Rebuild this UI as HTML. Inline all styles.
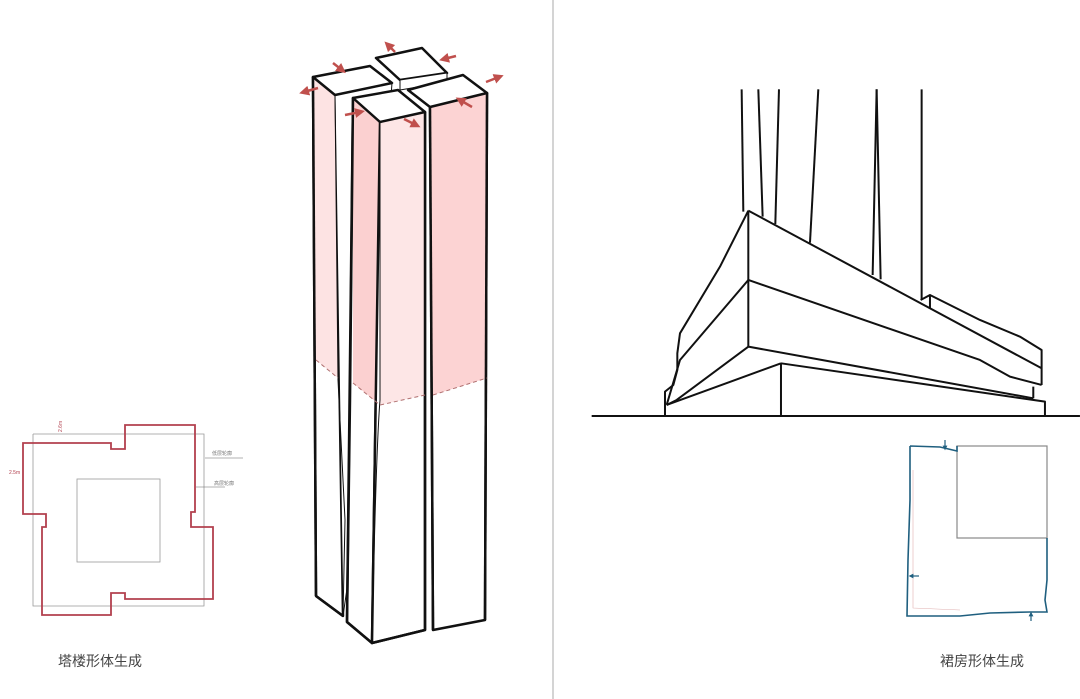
<!DOCTYPE html>
<html><head><meta charset="utf-8"><style>
html,body{margin:0;padding:0;background:#fff;}
body{width:1080px;height:699px;overflow:hidden;position:relative;}
.lbl{position:absolute;font-family:"Liberation Sans","Noto Sans CJK SC",sans-serif;font-size:14px;color:#444;}
</style></head><body>
<svg width="1080" height="699" style="position:absolute;left:0;top:0">
<defs>
<marker id="ar" markerWidth="4" markerHeight="4" refX="2" refY="2" orient="auto"><path d="M0,0 L4,2 L0,4 z" fill="#c0504d"/></marker>
<marker id="ab" markerWidth="4" markerHeight="4" refX="2" refY="2" orient="auto"><path d="M0,0 L4,2 L0,4 z" fill="#1f5f7f"/></marker>
</defs>
<line x1="553" y1="0" x2="553" y2="699" stroke="#aaa" stroke-width="1"/>

<!-- tower -->
<g stroke="#111" stroke-linejoin="round">
<!-- back-left block -->
<polygon points="313,77 335,95 343,616 316,596" fill="#fff" stroke-width="2.5"/>
<polygon points="313,77 335,95 338,378 316,360" fill="#fde3e3" stroke="none"/>
<polygon points="335,95 392,83 360,500 343,616" fill="#fff" stroke-width="1"/>
<polygon points="313,77 370,66 392,83 335,95" fill="#fff" stroke-width="2.5"/>
<!-- back block -->
<polygon points="376,58 422,48 447,73 400,80" fill="#fff" stroke-width="2.5"/>
<polygon points="400,80 447,73 447,82 400,90" fill="#fff" stroke-width="1"/>
<!-- right block -->
<polygon points="430,107 487,93 485,620 433,630" fill="#fff" stroke-width="2.5"/>
<polygon points="430,107 487,93 487,378 433,395" fill="#fcd3d3" stroke="none"/>
<polygon points="408,90 463,75 487,93 430,107" fill="#fff" stroke-width="2.5"/>
<line x1="430" y1="107" x2="433" y2="630" stroke-width="2.5"/>
<polyline points="487,93 485,620" fill="none" stroke-width="2.5"/>
<!-- front-left block -->
<polygon points="353,98 380,122 372,643 347,622" fill="#fff" stroke-width="2.5"/>
<polygon points="353,98 380,122 380,405 353,383" fill="#fbd0d0" stroke="none"/>
<polygon points="380,122 425,112 425,630 372,643" fill="#fff" stroke-width="2.5"/>
<polygon points="380,122 425,112 425,395 380,405" fill="#fde6e6" stroke="none"/>
<polygon points="353,98 398,90 425,112 380,122" fill="#fff" stroke-width="2.5"/>
<path d="M353,98 L350,400 L347,622 L372,643 L425,630 L425,112" fill="none" stroke-width="2.5"/>
<path d="M380,122 L380,400 Q376,450 372,643" fill="none" stroke-width="1"/>
<path d="M335,95 L338,380 L345,520 L343,616" fill="none" stroke-width="1"/>
<line x1="313" y1="77" x2="316" y2="596" stroke-width="2.5"/>
<line x1="316" y1="596" x2="343" y2="616" stroke-width="2.5"/>
</g>
<g stroke="#b07070" stroke-width="1" stroke-dasharray="4,3" fill="none">
<polyline points="316,360 338,378"/>
<polyline points="353,383 380,405 425,395"/>
<polyline points="433,395 487,378"/>
</g>
<g stroke="#c0504d" stroke-width="2.5" marker-end="url(#ar)">
<line x1="333" y1="63" x2="342" y2="70"/>
<line x1="318" y1="88" x2="304" y2="92"/>
<line x1="395" y1="52" x2="388" y2="45"/>
<line x1="456" y1="56" x2="444" y2="59"/>
<line x1="345" y1="115" x2="360" y2="112"/>
<line x1="404" y1="119" x2="416" y2="125"/>
<line x1="486" y1="82" x2="499" y2="77"/>
<line x1="472" y1="107" x2="460" y2="100"/>
</g>

<!-- left plan -->
<polyline points="33,434 204,434 204,606 33,606 33,434" fill="none" stroke="#999" stroke-width="0.8"/>
<rect x="77" y="479" width="83" height="83" fill="none" stroke="#999" stroke-width="0.8"/>
<polygon points="23,443 111,443 111,449 125,449 125,425 195,425 195,512 191,512 191,527 213,527 213,599 125,599 125,593 111,593 111,615 42,615 42,527 46,527 46,514 23,514" fill="none" stroke="#b2404e" stroke-width="1.8"/>
<line x1="205" y1="458" x2="243" y2="458" stroke="#666" stroke-width="0.6"/>
<line x1="196" y1="487" x2="225" y2="487" stroke="#666" stroke-width="0.6"/>
<text x="212" y="455" font-size="5" fill="#777" font-family="Noto Sans CJK SC,sans-serif">低层轮廓</text>
<text x="214" y="485" font-size="5" fill="#777" font-family="Noto Sans CJK SC,sans-serif">高层轮廓</text>
<text x="9" y="474" font-size="5" fill="#b2404e" font-family="Liberation Sans,sans-serif">2.5m</text>
<text x="62" y="432" font-size="5" fill="#b2404e" font-family="Liberation Sans,sans-serif" transform="rotate(-90 62 432)">2.6m</text>

<!-- podium -->
<g transform="translate(580,80) scale(0.3333)" stroke="#111" stroke-width="6" fill="none" stroke-linejoin="round">
<line x1="485" y1="28" x2="490" y2="395"/>
<line x1="535" y1="28" x2="548" y2="410"/>
<line x1="597" y1="28" x2="586" y2="432"/>
<line x1="715" y1="28" x2="690" y2="488"/>
<line x1="890" y1="28" x2="878" y2="585"/>
<line x1="890" y1="28" x2="902" y2="598"/>
<line x1="1025" y1="28" x2="1025" y2="660"/>
<path d="M505,392 L420,560 L300,760 L292,820 L292,870 L280,915 L255,935 L255,1005"/>
<path d="M505,392 L1385,865"/>
<path d="M505,392 L505,800"/>
<path d="M505,600 L300,840 L260,975"/>
<path d="M505,600 L1200,840 L1290,890 L1385,915"/>
<path d="M505,800 L290,960 L260,975"/>
<path d="M505,800 L1360,955"/>
<path d="M603,850 L260,975"/>
<path d="M603,850 L1395,965 L1395,1005"/>
<path d="M603,850 L603,1005"/>
<path d="M1360,920 L1360,955"/>
<path d="M1022,660 L1050,645 L1200,720 L1320,770 L1385,810 L1385,915"/>
<path d="M1050,645 L1050,685"/>
<line x1="35" y1="1008" x2="1500" y2="1008"/>
</g>

<!-- right plan -->
<rect x="957" y="446" width="90" height="92" fill="none" stroke="#888" stroke-width="1.2"/>
<path d="M910,446 L940,447 L957,451 L957,446 M1047,538 L1047,580 L1045,600 L1047,612 L1030,612 L990,613 L960,616 L907,616 L908,560 L910,500 L910,446" fill="none" stroke="#1f5f7f" stroke-width="1.6"/>
<path d="M913,470 L913,608 L960,610" fill="none" stroke="#e0b0b0" stroke-width="0.6"/>
<line x1="945" y1="440" x2="945" y2="448" stroke="#1f5f7f" stroke-width="1.2" marker-end="url(#ab)"/>
<line x1="919" y1="576" x2="911" y2="576" stroke="#1f5f7f" stroke-width="1.2" marker-end="url(#ab)"/>
<line x1="1031" y1="621" x2="1031" y2="614" stroke="#1f5f7f" stroke-width="1.2" marker-end="url(#ab)"/>
</svg>
<div class="lbl" style="left:58px;top:651px;">塔楼形体生成</div>
<div class="lbl" style="left:940px;top:651px;">裙房形体生成</div>
</body></html>
